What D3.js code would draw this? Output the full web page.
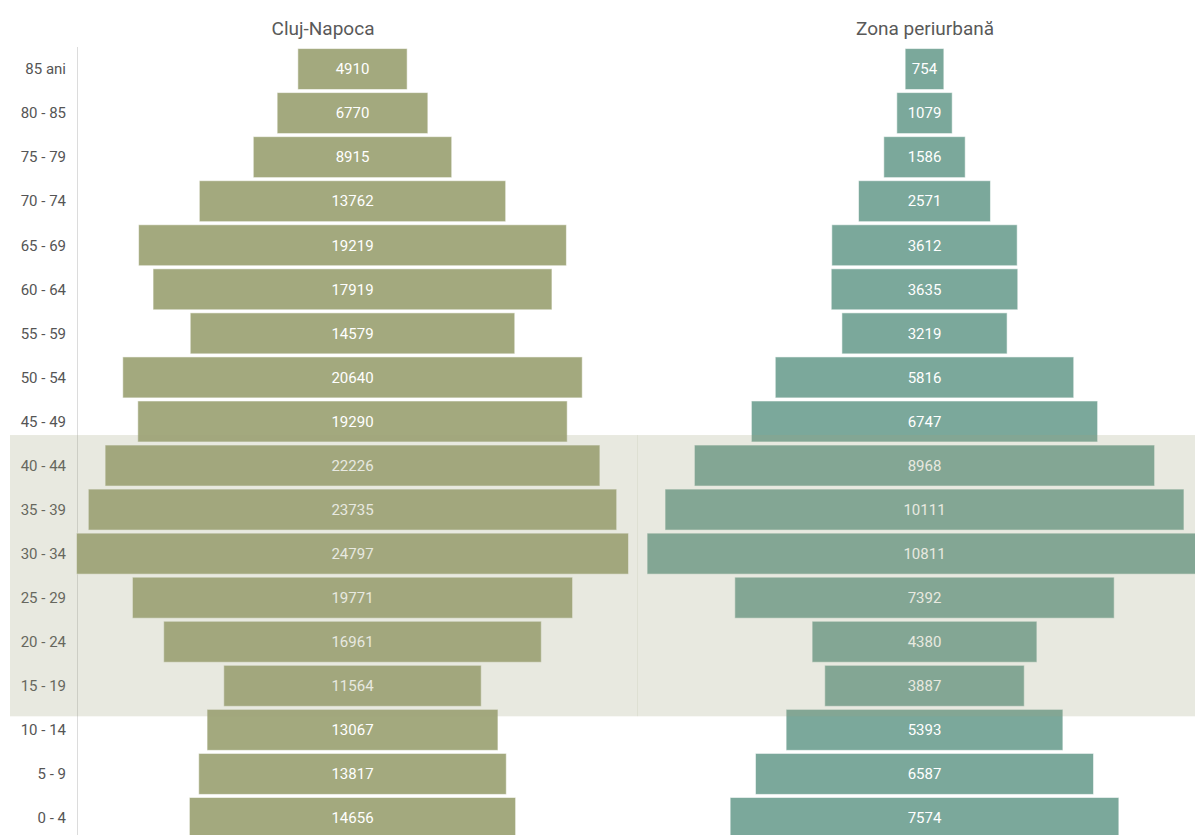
<!DOCTYPE html>
<html>
<head>
<meta charset="utf-8">
<script src="https://cdn.jsdelivr.net/npm/d3@7"></script>
<style>
  body { margin: 0; background: #fff; }
  svg text { font-family: Roboto, "Noto Sans", sans-serif; }
</style>
</head>
<body>
<svg id="chart"></svg>
<script>
// age groups, top to bottom
const ageGroups = ["85 ani", "80 - 85", "75 - 79", "70 - 74", "65 - 69", "60 - 64", "55 - 59", "50 - 54", "45 - 49",
  "40 - 44", "35 - 39", "30 - 34", "25 - 29", "20 - 24", "15 - 19", "10 - 14", "5 - 9", "0 - 4"];
const clujValues = [4910, 6770, 8915, 13762, 19219, 17919, 14579, 20640, 19290,
  22226, 23735, 24797, 19771, 16961, 11564, 13067, 13817, 14656];
const periValues = [754, 1079, 1586, 2571, 3612, 3635, 3219, 5816, 6747,
  8968, 10111, 10811, 7392, 4380, 3887, 5393, 6587, 7574];
const panelTitles = ["Cluj-Napoca", "Zona periurbană"];
const highlightGroups = ["40 - 44", "15 - 19"];

const W = 1195, H = 835;
const svg = d3.select("#chart").attr("width", W).attr("height", H);

const y = d3.scaleBand().domain(ageGroups).range([47, 840]).paddingInner(0.07).paddingOuter(0.035);

const panels = [
  {title: panelTitles[0], values: clujValues, center: 352.5, half: 276, titleX: 323, fill: "#a3a97e"},
  {title: panelTitles[1], values: periValues, center: 924.5, half: 277.4, titleX: 925, fill: "#7ba89b"}
];

// left axis line
svg.append("line")
  .attr("x1", 77.5).attr("x2", 77.5)
  .attr("y1", 47).attr("y2", H)
  .attr("stroke", "#dcdcdc");

// row labels
svg.append("g").selectAll("text")
  .data(ageGroups)
  .join("text")
  .attr("x", 66)
  .attr("y", d => y(d) + y.bandwidth() / 2)
  .attr("dy", "0.35em")
  .attr("text-anchor", "end")
  .attr("font-size", 15)
  .attr("fill", "#555")
  .text(d => d);

panels.forEach(p => {
  const x = d3.scaleLinear().domain([0, d3.max(p.values)]).range([0, p.half]);
  const g = svg.append("g");

  g.append("text")
    .attr("x", p.titleX)
    .attr("y", 28)
    .attr("dy", "0.35em")
    .attr("text-anchor", "middle")
    .attr("font-size", 19)
    .attr("fill", "#595959")
    .text(p.title);

  g.selectAll("rect")
    .data(p.values)
    .join("rect")
    .attr("x", d => p.center - x(d))
    .attr("y", (d, i) => y(ageGroups[i]))
    .attr("width", d => 2 * x(d))
    .attr("height", y.bandwidth())
    .attr("fill", p.fill)
    .attr("stroke", "rgba(255,255,255,0.55)")
    .attr("stroke-width", 1);

  g.selectAll("text.val")
    .data(p.values)
    .join("text")
    .attr("class", "val")
    .attr("x", p.center)
    .attr("y", (d, i) => y(ageGroups[i]) + y.bandwidth() / 2)
    .attr("dy", "0.35em")
    .attr("text-anchor", "middle")
    .attr("font-size", 15)
    .attr("fill", "#fff")
    .text(d => d);
});

// highlighted band (semi-transparent overlay)
const hTop = y(highlightGroups[0]) - 10;
const hBot = y(highlightGroups[1]) + y.bandwidth() + 10;
svg.append("rect")
  .attr("x", 10).attr("y", hTop)
  .attr("width", 627).attr("height", hBot - hTop)
  .attr("fill", "rgb(160,162,127)").attr("fill-opacity", 0.24);
svg.append("rect")
  .attr("x", 637).attr("y", hTop)
  .attr("width", W - 637).attr("height", hBot - hTop)
  .attr("fill", "rgb(160,162,127)").attr("fill-opacity", 0.24);
svg.append("line")
  .attr("x1", 637.5).attr("x2", 637.5)
  .attr("y1", hTop).attr("y2", hBot)
  .attr("stroke", "rgba(160,162,127,0.12)");
</script>
</body>
</html>
